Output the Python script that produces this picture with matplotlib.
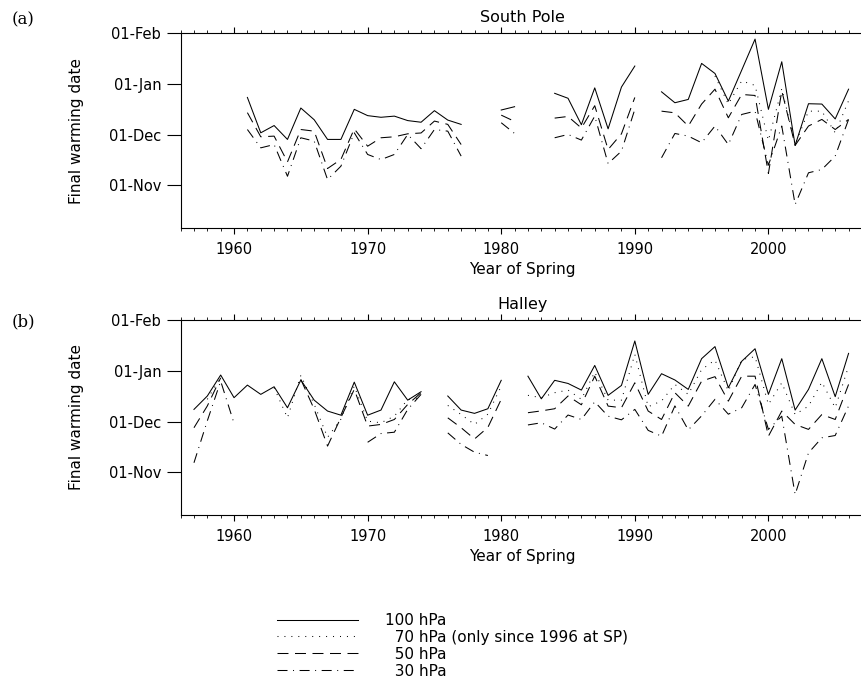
import numpy as np
import matplotlib
matplotlib.use("Agg")
import matplotlib.pyplot as plt

nan = np.nan

# spring years 1957..2006, values = days after 01-Dec
years = np.arange(1957, 2007)

# South Pole
sp_100 = [nan, nan, nan, nan,
          23, 1.6, 6, -2.4, 16.6, 9.5, -2.4, -2.4, 15.8, 12, 11, 11.7, 9, 8, 15, 9.3, 6.7,
          nan, nan, 15.4, 17.4, nan, nan,
          25.5, 22.5, 6.5, 28.8, 4, 29.3, 42,
          nan,
          26.4, 19.8, 21.8, 43.6, 37.5, 20.8, 39.5, 58.3, 15.8, 44.6, -6, 19.2, 19, 10, 28]
sp_70 = [nan] * 39 + [36, 19, 33, 30.3, -3, 28.3, -5.5, 14.7, 14.7, 1.6, 21]
sp_50 = [nan, nan, nan, nan,
         13.8, -0.8, -0.4, -16, 3.6, 2.6, -20, -14.5, 4, -6.5, -1.4, -0.8, 1, 1.5, 8.7, 6.7, -5.5,
         nan, nan, 12.3, 8.5, nan, nan,
         10.5, 11.5, 4.5, 18, -8.5, 1, 23,
         nan,
         14.7, 13.7, 5.7, 19, 28, 10.7, 24.8, 24.2, -23, 27, -6, 5.7, 9.7, 3.6, 9.7]
sp_30 = [nan, nan, nan, nan,
         3.6, -7.5, -5.5, -24.7, -1.4, -3.4, -26.7, -18.6, 1.6, -11.5, -14.6, -11.5, 0.6, -8, 3.6, 2.6, -12.5,
         nan, nan, 7.7, 1.2, nan, nan,
         -1.4, 0.6, -2.8, 11.7, -17, -9.5, 15.8,
         nan,
         -13.5, 1.2, -0.4, -4.4, 5.7, -5.5, 12.7, 14.7, -18, 5.7, -41.8, -22.6, -20.6, -12.5, 9.7]

# Halley
ha_100 = [7.9, 16, 28.7, 15, 22.6, 17, 21.6, 8.9, 25.7, 13.5, 6.9, 4.4, 24.4, 4.4, 7.5, 24.6, 13.5, 18.6,
          nan, 16, 7.5, 5.5, 8.3, 25.5, nan,
          28, 14.3, 25.5, 23.6, 19.6, 34.5, 16.4, 22.4, 49.3, 17, 29.5, 25.7, 20,
          38.6, 45.9, 21, 37, 44.6, 17, 38.6, 7.5, 20, 38.6, 15.6, 41.8]
ha_70 = [nan, 14, 27.5, nan, nan, nan, 21, 2.8, 28.5, 11, -9, 2, 22, 0.8, -0.2, 3.8, 13.9, 15,
         nan, 10.3, 4.8, -1.2, 5, 22, nan,
         16.4, 15, 18, 19.6, 14, 30.5, 13.5, 13.5, 41.2, 9.5, 13, 23, 17,
         32, 37.8, 19, 38, 39.8, 10.9, 24, 4.8, 9.9, 24.4, 8.9, 34]
ha_50 = [-3.2, 10, 27, nan, nan, nan, nan, nan, 26, 8, -14.3, 3, 20, -2.2, -1.2, 1.8, 10.9, 18,
         nan, 2.8, -3.2, -10, -3, 14, nan,
         5.9, 7, 8.3, 16, 10.7, 28, 9.9, 8.9, 24, 6.9, 1.8, 18, 9.9,
         25, 27.7, 12.9, 28, 28, -8.3, 6.9, -1.2, -4.2, 4.8, 1.8, 23]
ha_30 = [-24.4, 1, 25, -0.5, nan, nan, nan, nan, nan, nan, nan, nan, nan, -12, -6.7, -5.9, 7.9, 17,
         nan, -6.3, -13.3, -18, -20, nan, nan,
         -1.5, -0.2, -4, 4.5, 1.8, 12.5, 3.8, 1.6, 7.9, -4.8, -8.3, 10, -4.5,
         4, 14, 5, 8.9, 23, -4.2, 3.8, -43.6, -18.4, -9.3, -7.9, 10]

level_labels = ["100 hPa", "\u200770 hPa (only since 1996 at SP)", "\u200750 hPa", "\u200730 hPa"]
date_ticks = [-30, 0, 31, 62]
date_labels = ["01-Nov", "01-Dec", "01-Jan", "01-Feb"]

plt.rcParams["font.family"] = ["DejaVu Sans"]
plt.rcParams["lines.scale_dashes"] = False

styles = ["-", (0, (0.7, 4.3)), (0, (7.9, 4.7)), (0, (7.2, 4.0, 0.7, 4.0))]

fig = plt.figure(figsize=(8.62, 6.77), dpi=100)
ax1 = fig.add_axes([180.6 / 862, 1 - 228 / 677, 684 / 862, 195 / 677])
ax2 = fig.add_axes([180.6 / 862, 1 - 515 / 677, 684 / 862, 195 / 677])


def draw_panel(ax, series, title):
    lines = []
    for vals, ls in zip(series, styles):
        ln, = ax.plot(years, np.array(vals, dtype=float), color="black", lw=0.75, linestyle=ls)
        lines.append(ln)
    ax.set_xlim(1956, 2007.2)
    ax.set_ylim(-56, 62)
    ax.set_xticks(np.arange(1960, 2007, 10))
    ax.set_xticks(np.arange(1956, 2008, 1), minor=True)
    ax.set_yticks(date_ticks)
    ax.set_yticklabels(date_labels)
    ax.tick_params(axis="x", which="both", direction="out", top=True, labelsize=10.5, pad=6)
    ax.tick_params(axis="x", which="major", length=4, width=0.8)
    ax.tick_params(axis="x", which="minor", length=2, width=0.6)
    ax.tick_params(axis="y", which="major", direction="out", length=10, width=0.8,
                   labelsize=10.5, pad=4)
    ax.spines["right"].set_visible(False)
    for s in ["left", "top", "bottom"]:
        ax.spines[s].set_linewidth(0.8)
    ax.set_title(title, fontsize=11.5, pad=8)
    ax.set_xlabel("Year of Spring", fontsize=11, labelpad=4)
    ax.set_ylabel("Final warming date", fontsize=11, labelpad=18)
    return lines


draw_panel(ax1, [sp_100, sp_70, sp_50, sp_30], "South Pole")
handles = draw_panel(ax2, [ha_100, ha_70, ha_50, ha_30], "Halley")

fig.text(12 / 862, 1 - 20 / 677, "(a)", family="DejaVu Serif", fontsize=12, va="center")
fig.text(12 / 862, 1 - 322 / 677, "(b)", family="DejaVu Serif", fontsize=12, va="center")

fig.legend(handles, level_labels, loc="upper left", bbox_to_anchor=(277 / 862, 1 - 613 / 677),
           frameon=False, fontsize=11, handlelength=5.3, handletextpad=1.8,
           labelspacing=0.12, borderpad=0, borderaxespad=0)

fig.savefig("out.png", dpi=100)
